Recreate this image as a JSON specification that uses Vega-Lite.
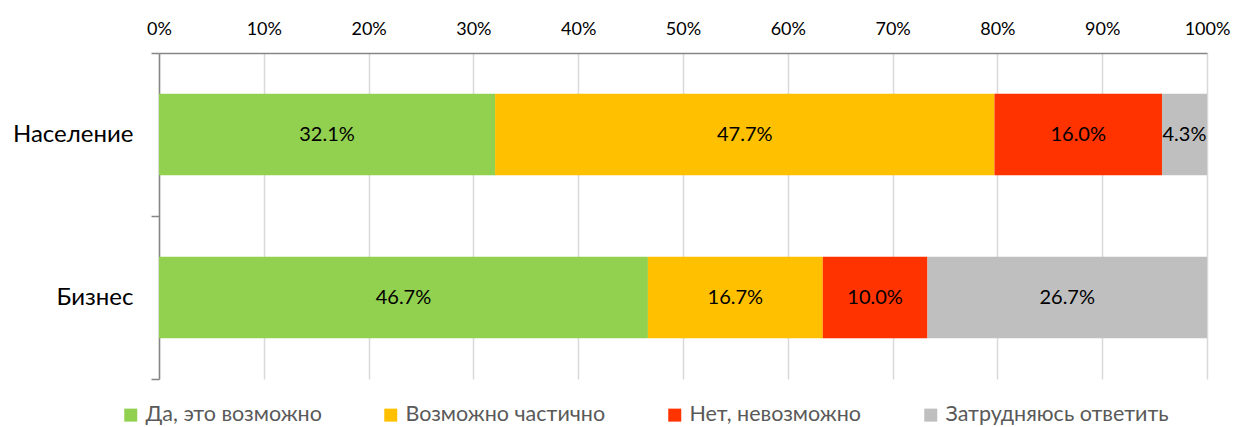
{
  "$schema": "https://vega.github.io/schema/vega-lite/v6.json",
  "width": 1048,
  "height": 326,
  "autosize": {"type": "none"},
  "padding": {"left": 159, "top": 53, "right": 27, "bottom": 48},
  "background": "white",
  "config": {
    "font": "Lato",
    "view": {"stroke": null},
    "axisX": {"labelFontSize": 18, "labelColor": "#000000", "ticks": false, "labelPadding": 15, "labelFlush": false, "grid": true, "gridColor": "#D9D9D9", "gridWidth": 1.5, "domainColor": "#868686", "domainWidth": 1.5, "labelOverlap": false},
    "axisY": {"labelFontSize": 24, "labelColor": "#000000", "tickBand": "extent", "domainColor": "#868686", "domainWidth": 1.5, "tickColor": "#868686", "tickWidth": 1.5, "tickSize": 8, "labelPadding": 18, "grid": false},
    "legend": {"labelFontSize": 21.5, "labelColor": "#595959", "labelLimit": 0}
  },
  "data": {"values": [
    {"cat": "Население", "answer": "Да, это возможно", "ord": 1, "value": 0.321},
    {"cat": "Население", "answer": "Возможно частично", "ord": 2, "value": 0.477},
    {"cat": "Население", "answer": "Нет, невозможно", "ord": 3, "value": 0.160},
    {"cat": "Население", "answer": "Затрудняюсь ответить", "ord": 4, "value": 0.043},
    {"cat": "Бизнес", "answer": "Да, это возможно", "ord": 1, "value": 0.467},
    {"cat": "Бизнес", "answer": "Возможно частично", "ord": 2, "value": 0.167},
    {"cat": "Бизнес", "answer": "Нет, невозможно", "ord": 3, "value": 0.100},
    {"cat": "Бизнес", "answer": "Затрудняюсь ответить", "ord": 4, "value": 0.267}
  ]},
  "transform": [
    {"stack": "value", "groupby": ["cat"], "sort": [{"field": "ord"}], "as": ["x0", "x1"], "offset": "normalize"},
    {"calculate": "(datum.x0 + datum.x1) / 2", "as": "xm"}
  ],
  "encoding": {
    "y": {
      "field": "cat", "type": "nominal", "sort": ["Население", "Бизнес"], "title": null,
      "scale": {"paddingInner": 0, "paddingOuter": 0}
    }
  },
  "layer": [
    {
      "mark": {"type": "bar", "height": {"band": 0.5}},
      "encoding": {
        "x": {"field": "x0", "type": "quantitative", "scale": {"domain": [0, 1]},
          "axis": {"orient": "top", "format": "%", "values": [0,0.1,0.2,0.3,0.4,0.5,0.6,0.7,0.8,0.9,1], "title": null}},
        "x2": {"field": "x1"},
        "color": {"field": "answer", "type": "nominal",
          "scale": {"domain": ["Да, это возможно", "Возможно частично", "Нет, невозможно", "Затрудняюсь ответить"], "range": ["#92D050", "#FFC000", "#FF3300", "#BFBFBF"]},
          "legend": {"title": null, "orient": "none", "direction": "horizontal", "legendX": -39, "legendY": 351, "symbolType": "square", "symbolSize": 169, "symbolStrokeWidth": 0, "labelOffset": 4, "columnPadding": 58}}
      }
    },
    {
      "mark": {"type": "text", "fontSize": 20, "color": "#000000"},
      "encoding": {
        "x": {"field": "xm", "type": "quantitative"},
        "text": {"field": "value", "type": "quantitative", "format": ".1%"}
      }
    }
  ]
}
